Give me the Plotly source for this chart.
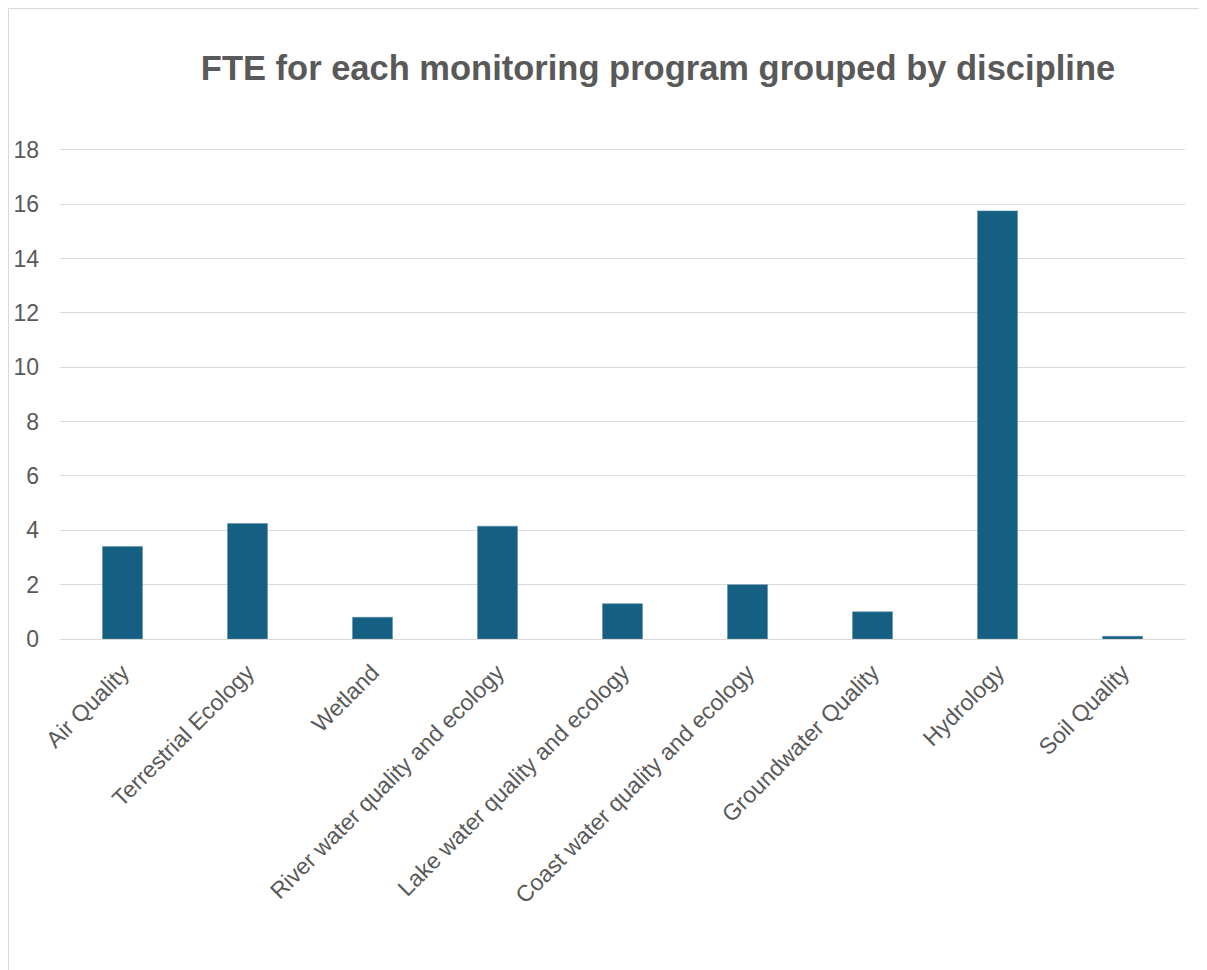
import plotly.graph_objects as go

disciplines = [
    "Air Quality",
    "Terrestrial Ecology",
    "Wetland",
    "River water quality and ecology",
    "Lake water quality and ecology",
    "Coast water quality and ecology",
    "Groundwater Quality",
    "Hydrology",
    "Soil Quality",
]
fte = [3.4, 4.25, 0.8, 4.15, 1.3, 2.0, 1.0, 15.75, 0.1]
y_ticks = [0, 2, 4, 6, 8, 10, 12, 14, 16, 18]

# page body has an 8px margin, so the figure is shifted by 8px
OFF = 8
W, H = 1207 - OFF, 970 - OFF
L, R, T, B = 60 - OFF, 22, 147 - OFF, 331
plot_w = W - L - R
plot_h = H - T - B


def px_x(px):
    """page pixel x -> paper coord"""
    return (px - OFF - L) / plot_w


def px_y(py):
    """page pixel y -> paper coord"""
    return (H - B - (py - OFF)) / plot_h


fig = go.Figure()
fig.add_trace(
    go.Bar(
        x=disciplines, y=fte,
        marker=dict(color="#156082", line=dict(color="#5f8fa8", width=0.6)),
        hoverinfo="x+y",
    )
)

# --- chart-area border like the Excel frame ---
fig.add_shape(
    type="rect", xref="paper", yref="paper",
    x0=px_x(8.5), x1=px_x(1200), y0=px_y(990), y1=px_y(8.5),
    line=dict(color="#d9d9d9", width=1), fillcolor="rgba(0,0,0,0)",
    layer="below",
)

fig.update_layout(
    width=W, height=H,
    margin=dict(l=L, r=R, t=T, b=B),
    paper_bgcolor="white", plot_bgcolor="white",
    bargap=0.68,
    showlegend=False,
    font=dict(family="Liberation Sans, Arial, sans-serif", color="#595959", size=23),
    title=dict(
        text="<b>FTE for each monitoring program grouped by discipline</b>",
        font=dict(size=34.5, color="#595959"),
        x=px_x(658), xref="paper", xanchor="center",
        y=1 - (68 - OFF) / H, yanchor="middle",
    ),
)
fig.update_yaxes(
    range=[0, 18.1], tickvals=y_ticks, automargin=False,
    showgrid=True, gridcolor="#d9d9d9", gridwidth=1,
    zeroline=True, zerolinecolor="#d9d9d9", zerolinewidth=1,
    showline=False, ticks="", ticklabelstandoff=20,
    tickfont=dict(size=23, color="#595959"),
)
fig.update_xaxes(
    tickangle=-45, automargin=False,
    showgrid=False, showline=True, linecolor="#d9d9d9",
    ticks="", ticklabelstandoff=10,
    tickfont=dict(size=23, color="#595959"),
)

fig.write_html("out.html")
